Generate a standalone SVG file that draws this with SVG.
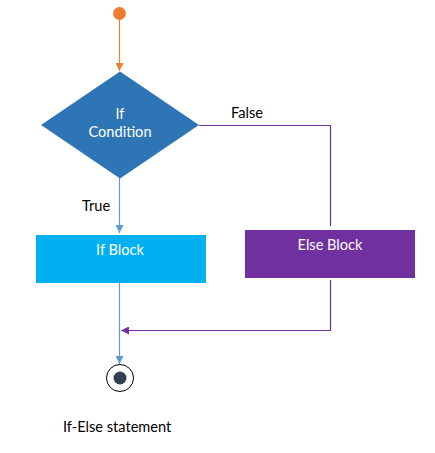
<svg xmlns="http://www.w3.org/2000/svg" width="435" height="453" viewBox="0 0 435 453">
<style>
text{font-family:Lato,"Open Sans","Liberation Sans",sans-serif;font-size:14.6px}
.w{fill:#ffffff}
.k{fill:#000000}
.c{stroke-width:1.2;fill:none}
</style>
<defs>
<marker id="aO" viewBox="0 0 10 10" refX="10" refY="5" markerWidth="8" markerHeight="8" markerUnits="userSpaceOnUse" orient="auto"><path d="M0,0L10,5L0,10z" fill="#ED7D31"/></marker>
<marker id="aB" viewBox="0 0 10 10" refX="10" refY="5" markerWidth="8" markerHeight="8" markerUnits="userSpaceOnUse" orient="auto"><path d="M0,0L10,5L0,10z" fill="#5B9BD5"/></marker>
<marker id="aP" viewBox="0 0 10 10" refX="10" refY="5" markerWidth="8" markerHeight="8" markerUnits="userSpaceOnUse" orient="auto"><path d="M0,0L10,5L0,10z" fill="#7030A0"/></marker>
</defs>
<rect width="435" height="453" fill="#ffffff"/>
<g id="connectors">
<path class="c" d="M119.5,20V71" stroke="#ED7D31" marker-end="url(#aO)"/>
<path class="c" d="M119.5,178V233" stroke="#5B9BD5" marker-end="url(#aB)"/>
<path class="c" d="M199,125.5H330.5V226" stroke="#7030A0"/>
<path class="c" d="M119.5,280V364" stroke="#5B9BD5" marker-end="url(#aB)"/>
<path class="c" d="M330.5,280V330.5H121" stroke="#7030A0" marker-end="url(#aP)"/>
<text class="k" x="82" y="210.5">True</text>
<text class="k" x="231" y="118">False</text>
</g>
<g id="start"><circle cx="119.5" cy="13.5" r="6.5" fill="#ED7D31"/></g>
<g id="condition">
<path d="M120,71.5L199,125L120,178.5L41,125z" fill="#2E75B6"/>
<text class="w" x="120" y="118.5" text-anchor="middle">If</text>
<text class="w" x="120" y="136.5" text-anchor="middle">Condition</text>
</g>
<g id="ifblock">
<rect x="36" y="235" width="170" height="48" fill="#00B0F0"/>
<text class="w" x="120" y="254.5" text-anchor="middle">If Block</text>
</g>
<g id="elseblock">
<rect x="245" y="230" width="170" height="48" fill="#7030A0"/>
<text class="w" x="330" y="249.5" text-anchor="middle">Else Block</text>
</g>
<g id="end">
<circle cx="120" cy="378" r="13.5" fill="#ffffff" stroke="#000000" stroke-width="1"/>
<circle cx="120" cy="378" r="6.5" fill="#333F50"/>
</g>
<text class="k" x="63" y="431.5">If-Else statement</text>
</svg>
